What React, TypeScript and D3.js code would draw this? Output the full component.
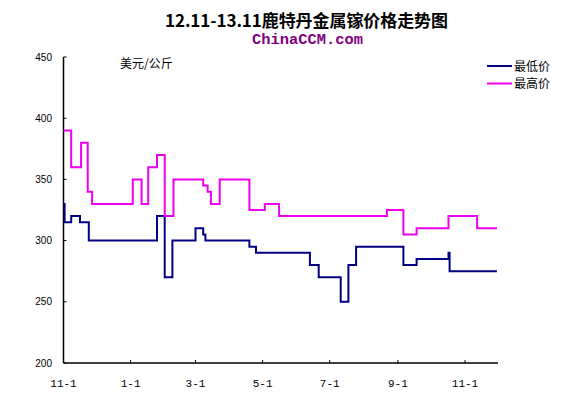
import * as d3 from "d3";

// lowest price (最低价), change points of a step series
const minDates = [
  "2012-11-01", "2012-11-02", "2012-11-08", "2012-11-16", "2012-11-24",
  "2013-01-25", "2013-02-01", "2013-02-08", "2013-03-01", "2013-03-08",
  "2013-03-10", "2013-04-19", "2013-04-25", "2013-06-13", "2013-06-21",
  "2013-07-11", "2013-07-18", "2013-07-25", "2013-09-06", "2013-09-18",
  "2013-10-17", "2013-10-18", "2013-11-30",
];
const minValues = [
  330, 315, 320, 315, 300,
  320, 270, 300, 310, 305,
  300, 295, 290, 280, 270,
  250, 280, 295, 280, 285,
  290, 275, 275,
];

// highest price (最高价)
const maxDates = [
  "2012-11-01", "2012-11-08", "2012-11-17", "2012-11-23", "2012-11-27",
  "2013-01-03", "2013-01-11", "2013-01-17", "2013-01-25", "2013-02-01",
  "2013-02-09", "2013-03-08", "2013-03-12", "2013-03-15", "2013-03-23",
  "2013-04-19", "2013-05-03", "2013-05-16", "2013-08-22", "2013-09-06",
  "2013-09-18", "2013-10-17", "2013-11-12", "2013-11-30",
];
const maxValues = [
  390, 360, 380, 340, 330,
  350, 330, 360, 370, 320,
  350, 345, 340, 330, 350,
  325, 330, 320, 325, 305,
  310, 320, 310, 310,
];

const xTickDates = ["2012-11-01", "2013-01-01", "2013-03-01", "2013-05-01", "2013-07-01", "2013-09-01", "2013-11-01"];
const xTickLabels = ["11-1", "1-1", "3-1", "5-1", "7-1", "9-1", "11-1"];
const yTicks = [200, 250, 300, 350, 400, 450];

const seriesNames = ["最低价", "最高价"];
const seriesColors = ["#000080", "#ee00ee"];

const W = 586;
const H = 398;
const margin = { top: 57, right: 88, bottom: 35, left: 63.5 };

export default function App() {
  const parse = d3.timeParse("%Y-%m-%d");
  const x = d3
    .scaleTime()
    .domain([parse("2012-11-01")!, parse("2013-12-01")!])
    .range([margin.left, W - margin.right]);
  const y = d3
    .scaleLinear()
    .domain([200, 450])
    .range([H - margin.bottom, margin.top]);

  const line = d3
    .line<[Date, number]>()
    .x((d) => x(d[0]))
    .y((d) => y(d[1]))
    .curve(d3.curveStepAfter);

  const series = [
    minDates.map((d, i) => [parse(d)!, minValues[i]] as [Date, number]),
    maxDates.map((d, i) => [parse(d)!, maxValues[i]] as [Date, number]),
  ];

  const x0 = margin.left;
  const x1 = W - margin.right;
  const yb = y(200);

  return (
    <svg
      width={W}
      height={H}
      style={{ position: "absolute", left: 0, top: 0, background: "#fff" }}
    >
      <text
        x={165}
        y={27}
        textLength={283}
        lengthAdjust="spacing"
        fontFamily="Noto Sans CJK SC"
        fontWeight="bold"
        fontSize={17}
        fill="#000"
      >
        12.11-13.11鹿特丹金属镓价格走势图
      </text>
      <text
        x={252}
        y={44}
        textLength={111}
        lengthAdjust="spacingAndGlyphs"
        fontFamily="Liberation Mono"
        fontWeight="bold"
        fontSize={15}
        fill="#800080"
      >
        ChinaCCM.com
      </text>

      {/* axes */}
      <line x1={x0} x2={x0} y1={y(450)} y2={yb} stroke="#000" strokeWidth={1.5} />
      <line x1={x0} x2={x1} y1={yb} y2={yb} stroke="#000" strokeWidth={1.5} />
      {yTicks.map((t) => (
        <g key={t}>
          <line x1={x0} x2={x0 + 3} y1={y(t)} y2={y(t)} stroke="#000" />
          <text
            x={52}
            y={y(t) + 3.5}
            textAnchor="end"
            fontFamily="Liberation Sans"
            fontSize={10}
            fill="#000"
          >
            {t}
          </text>
        </g>
      ))}
      {xTickDates.map((d, i) => {
        const px = x(parse(d)!);
        return (
          <g key={d}>
            {i > 0 && <line x1={px} x2={px} y1={yb} y2={yb - 3} stroke="#000" />}
            <text
              x={px}
              y={387}
              textAnchor="middle"
              fontFamily="Liberation Mono"
              fontSize={11}
              fill="#000"
            >
              {xTickLabels[i]}
            </text>
          </g>
        );
      })}

      <text x={120} y={68} fontFamily="Noto Sans CJK SC" fontSize={12} fill="#000">
        美元/公斤
      </text>

      {series.map((s, i) => (
        <path key={i} d={line(s) ?? ""} fill="none" stroke={seriesColors[i]} strokeWidth={2} />
      ))}

      {/* legend */}
      {seriesNames.map((name, i) => (
        <g key={name} transform={`translate(487,${66 + i * 17.5})`}>
          <line x1={0} x2={25} y1={0} y2={0} stroke={seriesColors[i]} strokeWidth={2} />
          <text x={27} y={4.5} fontFamily="Noto Sans CJK SC" fontSize={12} fill="#000">
            {name}
          </text>
        </g>
      ))}
    </svg>
  );
}
